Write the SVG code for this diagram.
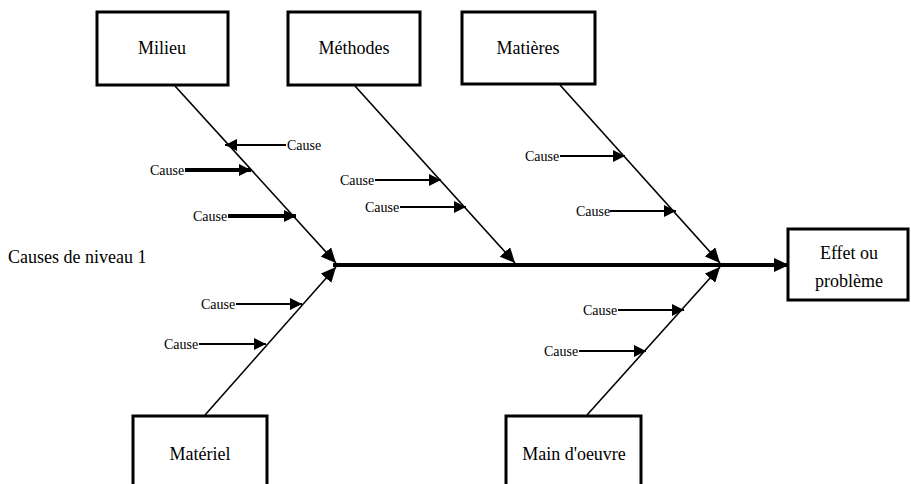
<svg xmlns="http://www.w3.org/2000/svg" width="911" height="484" viewBox="0 0 911 484">
<style>
.box{fill:#fff;stroke:#000;stroke-width:3}
.lbl{font-family:"Liberation Serif","Times New Roman",serif;font-size:18px;fill:#000;text-anchor:middle}
.c{font-family:"Liberation Serif","Times New Roman",serif;font-size:14px;fill:#000}
.bone{stroke:#000;stroke-width:1.6;fill:none}
.arr{stroke:#000;stroke-width:2;fill:none}
.thick{stroke:#000;stroke-width:4;fill:none}
</style>
<defs>
<marker id="ah" markerUnits="userSpaceOnUse" markerWidth="16" markerHeight="14" refX="15" refY="7" orient="auto">
<path d="M0,0 L15,7 L0,14 Z" fill="#000"/>
</marker>
<marker id="ahs" markerUnits="userSpaceOnUse" markerWidth="13" markerHeight="12" refX="12" refY="6" orient="auto">
<path d="M0,0 L12,6 L0,12 Z" fill="#000"/>
</marker>
</defs>
<rect width="911" height="484" fill="#fff"/>
<g id="connectors">
<line class="thick" x1="333" y1="265" x2="789" y2="265" marker-end="url(#ah)"/>
<line class="bone" x1="175" y1="86" x2="336" y2="263" marker-end="url(#ah)"/>
<line class="bone" x1="355" y1="86" x2="515" y2="263" marker-end="url(#ah)"/>
<line class="bone" x1="560" y1="85" x2="720" y2="263" marker-end="url(#ah)"/>
<line class="bone" x1="205" y1="415" x2="336" y2="267" marker-end="url(#ah)"/>
<line class="bone" x1="587" y1="415" x2="720" y2="267" marker-end="url(#ah)"/>
<line class="arr" x1="286" y1="145" x2="225" y2="145" marker-end="url(#ahs)"/>
<line class="thick" x1="185" y1="170" x2="251" y2="170" marker-end="url(#ahs)"/>
<line class="thick" x1="228" y1="216" x2="296" y2="216" marker-end="url(#ahs)"/>
<line class="arr" x1="375" y1="180" x2="441" y2="180" marker-end="url(#ahs)"/>
<line class="arr" x1="400" y1="207" x2="466" y2="207" marker-end="url(#ahs)"/>
<line class="arr" x1="560" y1="156" x2="625" y2="156" marker-end="url(#ahs)"/>
<line class="arr" x1="610" y1="211" x2="676" y2="211" marker-end="url(#ahs)"/>
<line class="arr" x1="236" y1="304" x2="302" y2="304" marker-end="url(#ahs)"/>
<line class="arr" x1="199" y1="344" x2="266" y2="344" marker-end="url(#ahs)"/>
<line class="arr" x1="618" y1="310" x2="684" y2="310" marker-end="url(#ahs)"/>
<line class="arr" x1="579" y1="351" x2="646" y2="351" marker-end="url(#ahs)"/>
</g>
<g id="milieu"><rect class="box" x="97" y="12" width="131" height="73"/><text class="lbl" x="162" y="54">Milieu</text></g>
<g id="methodes"><rect class="box" x="288" y="12" width="132" height="73"/><text class="lbl" x="354" y="54">Méthodes</text></g>
<g id="matieres"><rect class="box" x="462" y="12" width="133" height="72"/><text class="lbl" x="528" y="54">Matières</text></g>
<g id="effet"><rect class="box" x="788" y="229" width="120" height="71"/><text class="lbl" x="849" y="259">Effet ou</text><text class="lbl" x="849" y="287">problème</text></g>
<g id="materiel"><rect class="box" x="133" y="416" width="134" height="80"/><text class="lbl" x="200" y="460">Matériel</text></g>
<g id="maindoeuvre"><rect class="box" x="506" y="416" width="135" height="80"/><text class="lbl" x="574" y="460">Main d'oeuvre</text></g>
<g id="labels">
<text class="lbl" x="8" y="263" style="text-anchor:start">Causes de niveau 1</text>
<text class="c" x="287" y="150">Cause</text>
<text class="c" x="150" y="175">Cause</text>
<text class="c" x="193" y="221">Cause</text>
<text class="c" x="340" y="185">Cause</text>
<text class="c" x="365" y="212">Cause</text>
<text class="c" x="525" y="161">Cause</text>
<text class="c" x="576" y="216">Cause</text>
<text class="c" x="201" y="309">Cause</text>
<text class="c" x="164" y="349">Cause</text>
<text class="c" x="583" y="315">Cause</text>
<text class="c" x="544" y="356">Cause</text>
</g>
</svg>
